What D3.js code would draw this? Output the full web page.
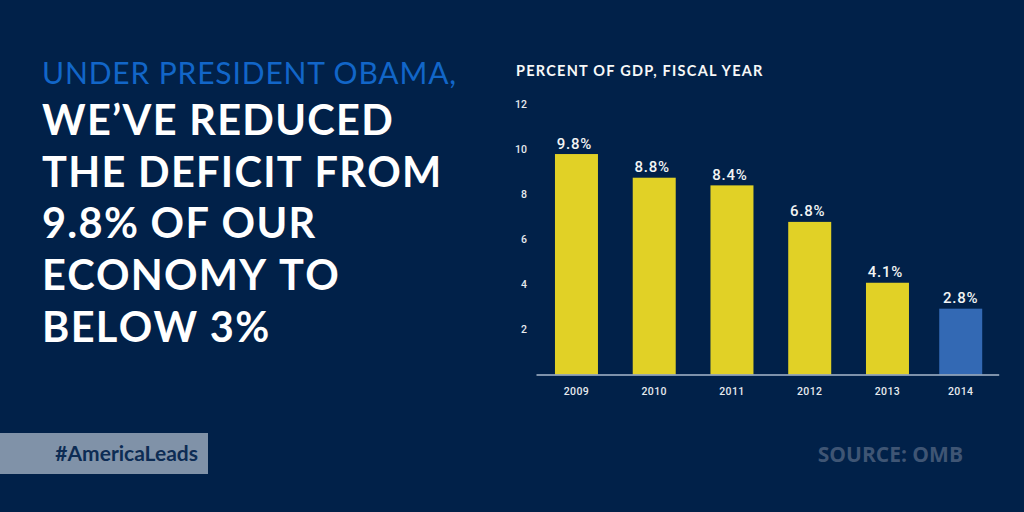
<!DOCTYPE html>
<html>
<head>
<meta charset="utf-8">
<script src="https://cdn.jsdelivr.net/npm/d3@7"></script>
<style>
html, body { margin: 0; padding: 0; background: #012149; }
svg { display: block; }
</style>
</head>
<body>
<svg id="chart"></svg>
<script>
var years = ['2009', '2010', '2011', '2012', '2013', '2014'],
    deficit = [9.78, 8.73, 8.39, 6.77, 4.07, 2.92],
    valueLabels = ['9.8%', '8.8%', '8.4%', '6.8%', '4.1%', '2.8%'],
    yTicks = [2, 4, 6, 8, 10, 12],
    highlightYear = '2014';

var headLine = 'UNDER PRESIDENT OBAMA,',
    bodyLines = ['WE\u2019VE REDUCED', 'THE DEFICIT FROM', '9.8% OF OUR', 'ECONOMY TO', 'BELOW 3%'],
    chartTitle = 'PERCENT OF GDP, FISCAL YEAR',
    hashTag = '#AmericaLeads',
    source = 'SOURCE: OMB';

var width = 1024,
    height = 512,
    navy = '#012149',
    lastBarShift = -4.5;

var svg = d3.select('#chart')
            .attr('width', width)
            .attr('height', height);

svg.append('rect')
   .attr('width', width)
   .attr('height', height)
   .attr('fill', navy);

//Scales
var x = d3.scaleBand()
          .domain(years)
          .range([536, 998.7])
          .paddingInner(0.447)
          .paddingOuter(0.199)
          .align(0.613);

var y = d3.scaleLinear()
          .domain([0, 12])
          .range([374.5, 104]);

//the last bar sits a little closer to 2013 in the original
function barX(d) {
  return x(d) + (d === highlightYear ? lastBarShift : 0);
}

//Bars
svg.append('g').selectAll('rect')
   .data(years)
   .join('rect')
   .attr('x', barX)
   .attr('y', function(d, i) { return y(deficit[i]); })
   .attr('width', x.bandwidth())
   .attr('height', function(d, i) { return y(0) - y(deficit[i]); })
   .attr('fill', function(d) { return d === highlightYear ? '#3369b4' : '#e1d126'; });

svg.append('g').selectAll('text')
   .data(years)
   .join('text')
   .attr('x', function(d) { return barX(d) + x.bandwidth()/2 - (d === highlightYear ? 0 : 2); })
   .attr('y', function(d, i) { return y(deficit[i]) - 5.5; })
   .attr('text-anchor', 'middle')
   .attr('fill', '#f2f4f4')
   .style('font', '500 15px Roboto')
   .style('letter-spacing', '0.8px')
   .text(function(d, i) { return valueLabels[i]; });

//Axes
var xAxis = svg.append('g')
   .attr('transform', 'translate(0,' + y(0) + ')')
   .call(d3.axisBottom(x).tickSize(0).tickPadding(13));
xAxis.select('.domain').attr('stroke', '#a9b9cc').attr('stroke-width', 1.5);
xAxis.selectAll('.tick')
     .filter(function(d) { return d === highlightYear; })
     .select('text')
     .attr('dx', lastBarShift);
xAxis.selectAll('text')
     .attr('fill', '#e6eaee')
     .style('font', '500 10.5px Roboto')
     .style('letter-spacing', '0.4px');

var yAxis = svg.append('g')
   .attr('transform', 'translate(527,0)')
   .call(d3.axisLeft(y).tickValues(yTicks).tickSize(0).tickPadding(0));
yAxis.select('.domain').remove();
yAxis.selectAll('text')
     .attr('fill', '#e6eaee')
     .style('font', '500 10.5px Roboto');

svg.append('text')
   .attr('x', 516)
   .attr('y', 76)
   .attr('fill', '#f7f8f8')
   .style('font', '700 14.5px Lato')
   .style('letter-spacing', '1.25px')
   .text(chartTitle);

//Headline
svg.append('text')
   .attr('x', 42)
   .attr('y', 83.5)
   .attr('fill', '#1266c8')
   .style('font', '400 30px Lato')
   .style('letter-spacing', '0.85px')
   .text(headLine);

var lineStep = d3.scaleLinear().domain([0, 1]).range([135, 186.7]);

svg.append('g').selectAll('text')
   .data(bodyLines)
   .join('text')
   .attr('x', 42)
   .attr('y', function(d, i) { return lineStep(i); })
   .attr('fill', '#ffffff')
   .style('font', '700 41.5px Lato')
   .style('font-kerning', 'none')
   .style('letter-spacing', '1.3px')
   .text(function(d) { return d; });

//Footer
svg.append('rect')
   .attr('x', 0)
   .attr('y', 433)
   .attr('width', 208)
   .attr('height', 41)
   .attr('fill', '#8092a8');

svg.append('text')
   .attr('x', 198)
   .attr('y', 461)
   .attr('text-anchor', 'end')
   .attr('fill', '#0d2c54')
   .style('font', '700 21px Lato')
   .text(hashTag);

svg.append('text')
   .attr('x', 963)
   .attr('y', 462)
   .attr('text-anchor', 'end')
   .attr('fill', '#3f5574')
   .style('font', '700 21px "Open Sans"')
   .text(source);
</script>
</body>
</html>
